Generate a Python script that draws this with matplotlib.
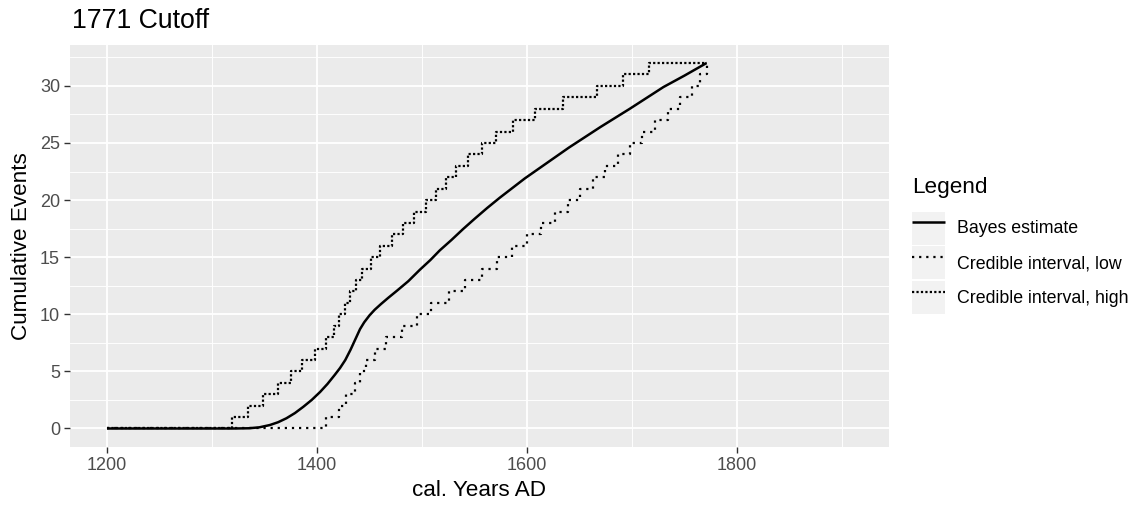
import matplotlib
matplotlib.use("Agg")
from matplotlib import pyplot as plt
from matplotlib.patches import Rectangle
from matplotlib.legend_handler import HandlerLine2D
from matplotlib.ticker import MultipleLocator

plt.rcParams['font.family'] = ['Liberation Sans', 'DejaVu Sans']

# Bayes estimate
bayes_years = [1200, 1320, 1335, 1345, 1355, 1363, 1371, 1379, 1387, 1395, 1403,
               1410, 1417, 1422, 1427, 1432, 1437, 1441, 1445, 1450, 1455, 1461,
               1468, 1476, 1487, 1498, 1508, 1517, 1528, 1539, 1550, 1562, 1574,
               1586, 1598, 1612, 1626, 1640, 1655, 1670, 1684, 1698, 1714, 1730,
               1750, 1771]
bayes_counts = [0, 0, 0.02, 0.1, 0.3, 0.55, 0.9, 1.35, 1.9, 2.5, 3.2,
                3.9, 4.7, 5.3, 6.0, 6.9, 7.9, 8.7, 9.3, 9.9, 10.4, 10.9,
                11.45, 12.05, 12.9, 13.9, 14.75, 15.6, 16.5, 17.45, 18.35, 19.3, 20.2,
                21.05, 21.9, 22.8, 23.7, 24.6, 25.5, 26.4, 27.2, 28.0, 28.95, 29.9,
                30.9, 32.0]

# credible interval, low (step function: year of each jump)
low_years = [1200, 1408.6, 1421, 1428, 1436, 1441, 1447, 1455, 1466, 1481, 1495.5,
             1509, 1526, 1541, 1557, 1571, 1585.5, 1600, 1613, 1627, 1639,
             1650.5, 1663, 1674, 1686.5, 1698.5, 1710, 1722, 1734.5, 1746, 1757,
             1765, 1771]
low_counts = [0, 1, 2, 3, 4, 5, 6, 7, 8, 9, 10,
              11, 12, 13, 14, 15, 16, 17, 18, 19, 20,
              21, 22, 23, 24, 25, 26, 27, 28, 29, 30,
              31, 32]

# credible interval, high
high_years = [1200, 1319, 1334.6, 1349, 1363, 1375, 1385.5, 1398, 1408.6, 1416, 1421,
              1426.5, 1431.5, 1437, 1443, 1451, 1460.5, 1471.5, 1481.5, 1492.5, 1504,
              1513, 1522.5, 1532.7, 1544, 1556.8, 1570.8, 1586.7, 1607.6, 1634.6, 1667,
              1691.7, 1716.2, 1771]
high_counts = [0, 1, 2, 3, 4, 5, 6, 7, 8, 9, 10,
               11, 12, 13, 14, 15, 16, 17, 18, 19, 20,
               21, 22, 23, 24, 25, 26, 27, 28, 29, 30,
               31, 32, 32]

x_ticks = [1200, 1400, 1600, 1800]
y_ticks = [0, 5, 10, 15, 20, 25, 30]
labels = ["Bayes estimate", "Credible interval, low", "Credible interval, high"]

W, H = 1137, 507
fig = plt.figure(figsize=(W/100, H/100), dpi=100)
fig.patch.set_facecolor('white')

L, R, T, B = 70, 889, 45, 447
ax = fig.add_axes([L/W, 1 - B/H, (R - L)/W, (B - T)/H])
ax.set_facecolor('#EBEBEB')
for s in ax.spines.values():
	s.set_visible(False)

ax.set_xlim(1164.8, 1944.8)
ax.set_ylim(-1.62, 33.58)
ax.set_xticks(x_ticks)
ax.set_yticks(y_ticks)
ax.xaxis.set_minor_locator(MultipleLocator(100))
ax.yaxis.set_minor_locator(MultipleLocator(2.5))
ax.grid(which='major', color='white', linewidth=1.3)
ax.grid(which='minor', color='white', linewidth=0.65)
ax.set_axisbelow(True)
ax.tick_params(which='major', length=4, width=1.0, color='#333333', labelcolor='#4D4D4D',
               labelsize=13, pad=3.2)
ax.tick_params(which='minor', length=0)

l1, = ax.plot(bayes_years, bayes_counts, color='black', linewidth=1.8, solid_capstyle='butt',
              solid_joinstyle='round', zorder=3)
l2, = ax.plot(low_years, low_counts, color='black', linewidth=1.6, drawstyle='steps-post',
              linestyle=(0, (1, 2.2)), zorder=3)
l3, = ax.plot(high_years, high_counts, color='black', linewidth=1.6, drawstyle='steps-post',
              linestyle=(0, (1, 1.0)), zorder=3)

fig.text(72/W, 1 - 28/H, "1771 Cutoff", fontsize=19.2, ha='left', va='baseline')
fig.text(22/W, 1 - 246/H, "Cumulative Events", fontsize=16.2, rotation=90, ha='center', va='center')
fig.text((L + R)/2/W, 1 - 490/H, "cal. Years AD", fontsize=16.2, ha='center', va='center')


class KeyHandler(HandlerLine2D):
	def create_artists(self, legend, orig_handle, xdescent, ydescent, width, height, fontsize, trans):
		bg = Rectangle((-xdescent, -ydescent), width, height, facecolor='#F2F2F2',
		               edgecolor='none', transform=trans)
		arts = super().create_artists(legend, orig_handle, xdescent, ydescent, width, height, fontsize, trans)
		return [bg] + list(arts)


h = KeyHandler()
fig.text(912/W, 1 - 187/H, "Legend", fontsize=16.2, ha='left', va='center')
leg = fig.legend([l1, l2, l3], labels, loc='upper left', bbox_to_anchor=(912/W, 1 - 211.5/H),
                 frameon=False, fontsize=12.8,
                 handlelength=1.85, handleheight=2.48, labelspacing=0.11, handletextpad=0.67,
                 borderpad=0, borderaxespad=0,
                 handler_map={l1: h, l2: h, l3: h})

fig.savefig("out.png", dpi=100)
